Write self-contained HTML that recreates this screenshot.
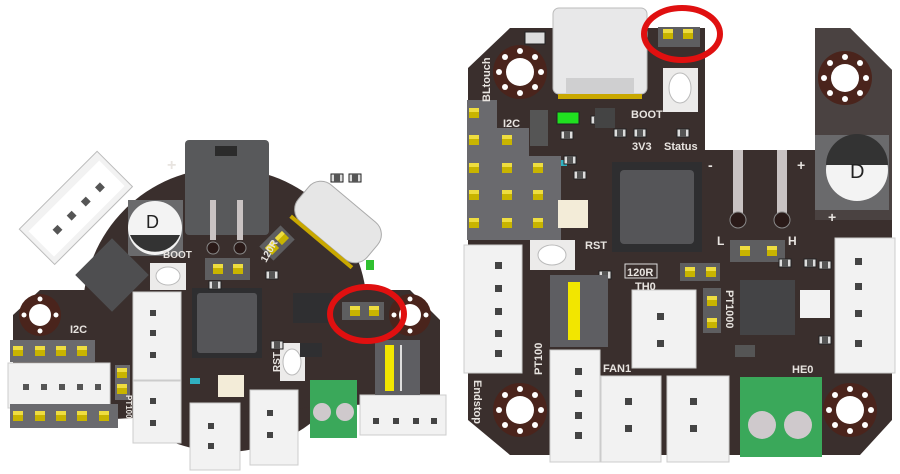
<!DOCTYPE html>
<html><head><meta charset="utf-8"><style>
html,body{margin:0;padding:0;background:#fff;}
svg{display:block;}
text{font-family:"Liberation Sans",sans-serif;font-weight:bold;fill:#e8e4e0;}
</style></head><body>
<svg width="900" height="474" viewBox="0 0 900 474" xmlns="http://www.w3.org/2000/svg">
<defs>
<g id="hole"><circle r="27" fill="#4a241c"/><circle r="14" fill="#fff"/>
<circle cx="0" cy="-21" r="3" fill="#fff"/><circle cx="0" cy="21" r="3" fill="#fff"/><circle cx="-21" cy="0" r="3" fill="#fff"/><circle cx="21" cy="0" r="3" fill="#fff"/>
<circle cx="-15" cy="-15" r="3" fill="#fff"/><circle cx="15" cy="15" r="3" fill="#fff"/><circle cx="15" cy="-15" r="3" fill="#fff"/><circle cx="-15" cy="15" r="3" fill="#fff"/></g>
<g id="holeS"><circle r="21" fill="#4a241c"/><circle r="11" fill="#fff"/>
<circle cx="0" cy="-16" r="2.5" fill="#fff"/><circle cx="0" cy="16" r="2.5" fill="#fff"/><circle cx="-16" cy="0" r="2.5" fill="#fff"/><circle cx="16" cy="0" r="2.5" fill="#fff"/></g>
<g id="pin"><rect x="-5" y="-5" width="10" height="10" fill="#c8b400"/><rect x="-5" y="-5" width="10" height="4" fill="#eedd40"/></g>
<g id="smd"><rect x="-6" y="-4" width="12" height="8" fill="#ddd" stroke="#222"/><rect x="-3" y="-4" width="6" height="8" fill="#555"/></g>
</defs>

<!-- LEFT BOARD -->
<g>
<circle cx="225" cy="310" r="142" fill="#3a2f2d"/>
<path d="M40 290 L410 290 L440 320 L440 400 L13 425 L13 315 Z" fill="#3a2f2d"/>
<use href="#holeS" x="40" y="315"/>
<use href="#holeS" x="410" y="315"/>
<!-- angled connector -->
<g transform="translate(78,210) rotate(-45)">
<rect x="-55" y="-28" width="110" height="50" fill="#f2f2f2" stroke="#bbb"/>
<rect x="-50" y="-20" width="100" height="36" fill="#fff"/>
<rect x="-32" y="-4" width="7" height="7" fill="#555"/><rect x="-12" y="-4" width="7" height="7" fill="#555"/><rect x="8" y="-4" width="7" height="7" fill="#555"/><rect x="28" y="-4" width="7" height="7" fill="#555"/>
</g>
<!-- big gray connector -->
<rect x="185" y="140" width="84" height="95" rx="4" fill="#58595b"/>
<rect x="215" y="146" width="22" height="10" fill="#2b2b2b"/>
<rect x="210" y="200" width="6" height="40" fill="#c9c3c3"/><rect x="237" y="200" width="6" height="40" fill="#c9c3c3"/>
<circle cx="213" cy="248" r="6" fill="#2a1a18" stroke="#888"/><circle cx="240" cy="248" r="6" fill="#2a1a18" stroke="#888"/>
<!-- capacitor -->
<rect x="128" y="200" width="55" height="56" fill="#6a6a6c"/>
<circle cx="155" cy="228" r="27" fill="#f3f3f3"/>
<path d="M130 235 A27 27 0 0 0 180 235 Z" fill="#333"/>
<text x="146" y="228" font-size="18" style="fill:#222;font-weight:normal">D</text>
<text x="167" y="170" font-size="16">+</text>
<!-- USB-C angled -->
<g transform="translate(338,222) rotate(40)">
<rect x="-45" y="-24" width="90" height="48" rx="16" fill="#e6e6e6" stroke="#aaa"/>
<rect x="-40" y="24" width="80" height="4" fill="#c9a800"/>
</g>
<use href="#smd" x="337" y="178"/><use href="#smd" x="355" y="178"/>
<!-- left chip rotated -->
<g transform="translate(112,275) rotate(45)"><rect x="-26" y="-26" width="52" height="52" fill="#4e4e50"/></g>
<!-- MCU -->
<rect x="192" y="288" width="70" height="70" fill="#2e2e30"/>
<rect x="197" y="293" width="60" height="60" rx="3" fill="#555558"/>
<!-- white vertical connectors -->
<rect x="133" y="292" width="48" height="88" fill="#f2f2f2" stroke="#ccc"/>
<rect x="150" y="310" width="6" height="6" fill="#444"/><rect x="150" y="330" width="6" height="6" fill="#444"/><rect x="150" y="352" width="6" height="6" fill="#444"/>
<rect x="133" y="381" width="48" height="62" fill="#f2f2f2" stroke="#ccc"/>
<rect x="150" y="398" width="6" height="6" fill="#444"/><rect x="150" y="420" width="6" height="6" fill="#444"/>
<rect x="190" y="403" width="50" height="67" fill="#f2f2f2" stroke="#ccc"/>
<rect x="208" y="423" width="6" height="6" fill="#444"/><rect x="208" y="443" width="6" height="6" fill="#444"/>
<rect x="250" y="390" width="48" height="75" fill="#f2f2f2" stroke="#ccc"/>
<rect x="267" y="410" width="6" height="6" fill="#444"/><rect x="267" y="432" width="6" height="6" fill="#444"/>
<rect x="360" y="395" width="86" height="40" fill="#f2f2f2" stroke="#ccc"/>
<rect x="373" y="418" width="6" height="6" fill="#444"/><rect x="393" y="418" width="6" height="6" fill="#444"/><rect x="413" y="418" width="6" height="6" fill="#444"/><rect x="431" y="418" width="6" height="6" fill="#444"/>
<rect x="8" y="363" width="102" height="45" fill="#f2f2f2" stroke="#ccc"/>
<rect x="23" y="384" width="6" height="6" fill="#555"/><rect x="41" y="384" width="6" height="6" fill="#555"/><rect x="59" y="384" width="6" height="6" fill="#555"/><rect x="77" y="384" width="6" height="6" fill="#555"/><rect x="95" y="384" width="6" height="6" fill="#555"/>
<!-- pin headers -->
<rect x="10" y="340" width="85" height="22" fill="#6a6a6e"/>
<use href="#pin" x="18" y="351"/><use href="#pin" x="40" y="351"/><use href="#pin" x="61" y="351"/><use href="#pin" x="82" y="351"/>
<rect x="10" y="404" width="108" height="24" fill="#6a6a6e"/>
<use href="#pin" x="18" y="416"/><use href="#pin" x="40" y="416"/><use href="#pin" x="61" y="416"/><use href="#pin" x="82" y="416"/><use href="#pin" x="104" y="416"/>
<rect x="115" y="365" width="15" height="35" fill="#6a6a6e"/>
<use href="#pin" x="122" y="373"/><use href="#pin" x="122" y="389"/>
<!-- buttons -->
<rect x="150" y="263" width="36" height="27" fill="#ecebea"/><ellipse cx="168" cy="276" rx="12" ry="9" fill="#fff" stroke="#bbb"/>
<rect x="280" y="343" width="25" height="38" fill="#ecebea"/><ellipse cx="292" cy="362" rx="9" ry="13" fill="#fff" stroke="#bbb"/>
<!-- jumpers -->
<rect x="205" y="258" width="45" height="22" fill="#5e5e60"/><use href="#pin" x="218" y="269"/><use href="#pin" x="238" y="269"/>
<g transform="translate(277,243) rotate(-45)"><rect x="-15" y="-10" width="30" height="20" fill="#5e5e60"/><use href="#pin" x="-7" y="0"/><use href="#pin" x="7" y="0"/></g>
<rect x="342" y="302" width="42" height="18" fill="#5e5e60"/><use href="#pin" x="355" y="311"/><use href="#pin" x="374" y="311"/>
<rect x="293" y="293" width="40" height="30" fill="#2f2f31"/>
<rect x="300" y="343" width="22" height="14" fill="#2f2f31"/>
<use href="#smd" x="272" y="275"/><use href="#smd" x="215" y="285"/><use href="#smd" x="277" y="345"/><use href="#smd" x="390" y="345"/>
<!-- green terminal -->
<rect x="310" y="380" width="47" height="58" fill="#3aa85a"/>
<circle cx="322" cy="412" r="9" fill="#cfc9cc"/><circle cx="345" cy="412" r="9" fill="#cfc9cc"/>
<!-- DIP -->
<rect x="375" y="340" width="45" height="55" fill="#5e5e62"/>
<rect x="385" y="345" width="9" height="46" fill="#f2e600"/>
<rect x="400" y="345" width="2" height="46" fill="#ddd"/>
<text x="70" y="333" font-size="11">I2C</text>
<text x="163" y="258" font-size="10">BOOT</text>
<text transform="translate(266,263) rotate(-60)" font-size="10">120R</text>
<text transform="translate(280,372) rotate(-90)" font-size="10">RST</text>
<text transform="translate(126,395) rotate(90)" font-size="8">PT100</text>
<rect x="190" y="378" width="10" height="6" fill="#30b0c0"/>
<rect x="218" y="375" width="26" height="22" fill="#f3ecd8"/>
<rect x="366" y="260" width="8" height="10" fill="#30c030"/>
<!-- red ellipse -->
<ellipse cx="367" cy="314" rx="37" ry="27" fill="none" stroke="#e01010" stroke-width="6"/>
</g>

<!-- RIGHT BOARD -->
<g>
<path d="M510 28 L705 28 L705 150 L815 150 L815 28 L850 28 L892 70 L892 420 L860 455 L510 455 L468 420 L468 68 Z" fill="#3a2f2d"/>
<path d="M815 28 L850 28 L892 70 L892 220 L815 220 Z" fill="#4a4241"/>
<use href="#hole" x="520" y="72"/>
<use href="#hole" x="845" y="78"/>
<use href="#hole" x="520" y="410"/>
<use href="#hole" x="850" y="410"/>
<!-- usb -->
<rect x="553" y="8" width="94" height="86" rx="6" fill="#e8e8e9" stroke="#bbb"/>
<rect x="566" y="78" width="68" height="16" fill="#cfcfd0"/>
<rect x="558" y="94" width="84" height="5" fill="#c9a800"/>
<rect x="525" y="32" width="20" height="12" fill="#ddd" stroke="#222"/>
<!-- vbus jumper -->
<rect x="658" y="27" width="42" height="20" fill="#5e5e60"/><use href="#pin" x="668" y="34"/><use href="#pin" x="688" y="34"/>
<ellipse cx="682" cy="34" rx="38" ry="26" fill="none" stroke="#e01010" stroke-width="6"/>
<!-- boot button -->
<rect x="663" y="68" width="35" height="44" fill="#ecebea"/><ellipse cx="680" cy="88" rx="11" ry="15" fill="#fff" stroke="#bbb"/>
<!-- capacitor -->
<rect x="815" y="135" width="74" height="75" fill="#6a6a6c"/>
<circle cx="857" cy="170" r="31" fill="#f3f3f3"/>
<path d="M826 165 A31 31 0 0 1 888 165 Z" fill="#333"/>
<text x="850" y="178" font-size="20" style="fill:#222;font-weight:normal">D</text>
<text x="828" y="222" font-size="14">+</text>
<text x="797" y="170" font-size="14">+</text>
<text x="708" y="170" font-size="14">-</text>
<!-- posts -->
<rect x="733" y="150" width="10" height="72" fill="#c9c3c3"/><rect x="777" y="150" width="10" height="72" fill="#c9c3c3"/>
<circle cx="738" cy="220" r="8" fill="#2a1a18" stroke="#888"/><circle cx="782" cy="220" r="8" fill="#2a1a18" stroke="#888"/>
<rect x="730" y="240" width="55" height="22" fill="#5e5e60"/><use href="#pin" x="745" y="251"/><use href="#pin" x="772" y="251"/>
<text x="717" y="245" font-size="12">L</text><text x="788" y="245" font-size="12">H</text>
<!-- MCU -->
<rect x="612" y="162" width="90" height="90" fill="#2e2e30"/>
<rect x="620" y="170" width="74" height="74" rx="4" fill="#555558"/>
<!-- left pin headers -->
<rect x="467" y="100" width="30" height="140" fill="#6a6a6e"/>
<rect x="497" y="128" width="32" height="112" fill="#6a6a6e"/>
<rect x="529" y="156" width="32" height="84" fill="#6a6a6e"/>
<use href="#pin" x="474" y="113"/><use href="#pin" x="474" y="140"/><use href="#pin" x="474" y="168"/><use href="#pin" x="474" y="195"/><use href="#pin" x="474" y="223"/>
<use href="#pin" x="507" y="140"/><use href="#pin" x="507" y="168"/><use href="#pin" x="507" y="195"/><use href="#pin" x="507" y="223"/>
<use href="#pin" x="538" y="168"/><use href="#pin" x="538" y="195"/><use href="#pin" x="538" y="223"/>
<rect x="530" y="110" width="18" height="36" fill="#555"/>
<rect x="557" y="112" width="22" height="12" fill="#20e020" stroke="#222"/>
<rect x="558" y="200" width="30" height="28" fill="#f3ecd8"/>
<rect x="561" y="160" width="6" height="6" fill="#30b0c0"/>
<use href="#smd" x="567" y="135"/><use href="#smd" x="570" y="160"/><use href="#smd" x="580" y="175"/><use href="#smd" x="597" y="120"/>
<use href="#smd" x="620" y="133"/><use href="#smd" x="640" y="133"/><use href="#smd" x="683" y="133"/><use href="#smd" x="825" y="265"/><use href="#smd" x="825" y="340"/>
<use href="#smd" x="785" y="263"/><use href="#smd" x="810" y="263"/><use href="#smd" x="605" y="275"/>
<rect x="595" y="108" width="20" height="20" fill="#444"/>
<!-- connectors -->
<rect x="464" y="245" width="58" height="128" fill="#f2f2f2" stroke="#ccc"/>
<rect x="495" y="262" width="7" height="7" fill="#444"/><rect x="495" y="285" width="7" height="7" fill="#444"/><rect x="495" y="308" width="7" height="7" fill="#444"/><rect x="495" y="330" width="7" height="7" fill="#444"/><rect x="495" y="350" width="7" height="7" fill="#444"/>
<rect x="835" y="238" width="60" height="135" fill="#f2f2f2" stroke="#ccc"/>
<rect x="855" y="258" width="7" height="7" fill="#444"/><rect x="855" y="283" width="7" height="7" fill="#444"/><rect x="855" y="310" width="7" height="7" fill="#444"/><rect x="855" y="340" width="7" height="7" fill="#444"/>
<rect x="632" y="290" width="64" height="78" fill="#f2f2f2" stroke="#ccc"/>
<rect x="657" y="313" width="7" height="7" fill="#444"/><rect x="657" y="340" width="7" height="7" fill="#444"/>
<rect x="550" y="350" width="50" height="112" fill="#f2f2f2" stroke="#ccc"/>
<rect x="575" y="368" width="7" height="7" fill="#444"/><rect x="575" y="390" width="7" height="7" fill="#444"/><rect x="575" y="412" width="7" height="7" fill="#444"/><rect x="575" y="432" width="7" height="7" fill="#444"/>
<rect x="601" y="376" width="60" height="86" fill="#f2f2f2" stroke="#ccc"/>
<rect x="625" y="398" width="7" height="7" fill="#444"/><rect x="625" y="425" width="7" height="7" fill="#444"/>
<rect x="667" y="376" width="62" height="86" fill="#f2f2f2" stroke="#ccc"/>
<rect x="690" y="398" width="7" height="7" fill="#444"/><rect x="690" y="425" width="7" height="7" fill="#444"/>
<!-- green terminal -->
<rect x="740" y="377" width="82" height="80" fill="#3aa85a"/>
<circle cx="762" cy="425" r="14" fill="#cfc9cc"/><circle cx="798" cy="425" r="14" fill="#cfc9cc"/>
<!-- DIP -->
<rect x="550" y="275" width="58" height="72" fill="#5e5e62"/>
<rect x="568" y="282" width="12" height="58" fill="#f2e600"/>
<!-- QFN -->
<rect x="740" y="280" width="55" height="55" fill="#444446"/>
<rect x="800" y="290" width="30" height="28" fill="#f2f2f2"/>
<rect x="735" y="345" width="20" height="12" fill="#555"/>
<!-- RST button -->
<rect x="530" y="240" width="45" height="30" fill="#ecebea"/><ellipse cx="552" cy="255" rx="14" ry="10" fill="#fff" stroke="#bbb"/>
<!-- jumpers -->
<rect x="680" y="263" width="40" height="18" fill="#5e5e60"/><use href="#pin" x="690" y="272"/><use href="#pin" x="711" y="272"/>
<rect x="703" y="288" width="18" height="45" fill="#5e5e60"/><use href="#pin" x="712" y="301"/><use href="#pin" x="712" y="323"/>
<!-- labels -->
<text transform="translate(490,102) rotate(-90)" font-size="11">BLtouch</text>
<text x="503" y="127" font-size="11">I2C</text>
<text x="631" y="118" font-size="11">BOOT</text>
<text x="632" y="150" font-size="11">3V3</text>
<text x="664" y="150" font-size="11">Status</text>
<text x="585" y="249" font-size="11">RST</text>
<rect x="625" y="264" width="32" height="14" fill="none" stroke="#ddd"/>
<text x="627" y="276" font-size="11">120R</text>
<text x="635" y="290" font-size="11">TH0</text>
<text transform="translate(726,290) rotate(90)" font-size="11">PT1000</text>
<text transform="translate(542,375) rotate(-90)" font-size="11">PT100</text>
<text transform="translate(474,380) rotate(90)" font-size="11">Endstop</text>
<text x="603" y="372" font-size="11">FAN1</text>
<text x="792" y="373" font-size="11">HE0</text>
</g>
</svg>
</body></html>
